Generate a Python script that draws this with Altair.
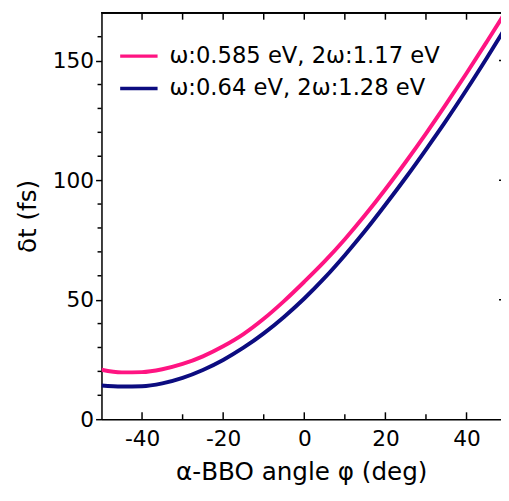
import altair as alt
import pandas as pd

# ---- data ----
angles = [-50, -45, -40, -35, -30, -25, -20, -15, -10, -5, 0, 5, 10, 15, 20, 25, 30, 35, 40, 45, 50]
dt_0585 = [20.7, 19.6, 19.7, 20.9, 23.1, 26.3, 30.5, 35.6, 42.0, 49.4, 57.5, 66.0, 75.3, 85.4,
           96.2, 107.6, 119.5, 131.9, 144.7, 157.9, 171.3]
dt_064 = [14.1, 13.7, 13.8, 15.0, 17.3, 20.6, 24.8, 29.9, 35.9, 42.8, 50.5, 59.1, 68.6, 78.8,
          89.7, 101.0, 112.8, 125.0, 137.8, 151.1, 164.8]
series_names = ["ω:0.585 eV, 2ω:1.17 eV", "ω:0.64 eV, 2ω:1.28 eV"]
series_colors = ["#ff1482", "#0c0c80"]

x_major = [-40, -20, 0, 20, 40]
x_minor = [-30, -10, 10, 30]
y_major = [0, 50, 100, 150]
y_minor = [10, 20, 30, 40, 60, 70, 80, 90, 110, 120, 130, 140, 160]
y_right = [50, 100, 150]

W, H = 406, 413
XDOM = [-50, 48.5]
YDOM = [0, 170]
FONT = "DejaVu Sans"

rows = []
for a, v in zip(angles, dt_0585):
    rows.append({"angle": a, "dt": v, "series": series_names[0]})
for a, v in zip(angles, dt_064):
    rows.append({"angle": a, "dt": v, "series": series_names[1]})
df = pd.DataFrame(rows)

xs = alt.Scale(domain=XDOM, nice=False, zero=False)
ys = alt.Scale(domain=YDOM, nice=False, zero=False)

lines = alt.Chart(df).mark_line(strokeWidth=4, interpolate="monotone", clip=True).encode(
    x=alt.X("angle:Q", scale=xs,
            axis=alt.Axis(values=x_major, ticks=False, labelPadding=10, labelFontSize=22,
                          labelExpr="datum.value + ''", title="α-BBO angle φ (deg)",
                          titleFontSize=25, titleFontWeight="normal", titlePadding=10,
                          grid=False, domainColor="black", domainWidth=1.5,
                          labelColor="black", titleColor="black", labelFont=FONT,
                          titleFont=FONT)),
    y=alt.Y("dt:Q", scale=ys,
            axis=alt.Axis(values=y_major, tickSize=6, tickWidth=1.5, tickColor="black",
                          labelFontSize=22, labelPadding=2, title="δt (fs)",
                          titleFontSize=25, titleFontWeight="normal", titlePadding=12,
                          grid=False, domainColor="black", domainWidth=1.5,
                          labelColor="black", titleColor="black", labelFont=FONT,
                          titleFont=FONT)),
    color=alt.Color("series:N",
                    scale=alt.Scale(domain=series_names, range=series_colors),
                    legend=alt.Legend(title=None, orient="none", legendX=17, legendY=23,
                                      symbolType="stroke", symbolSize=1444,
                                      symbolStrokeWidth=3.5, labelFontSize=23,
                                      labelFont=FONT, labelLimit=500,
                                      labelOffset=10, rowPadding=0, labelColor="black")),
    order="angle:Q",
)

xmaj_df = pd.DataFrame({"v": x_major})
xmin_df = pd.DataFrame({"v": x_minor})
ymin_df = pd.DataFrame({"v": y_minor})
yr_df = pd.DataFrame({"v": y_right})

rule_style = dict(color="black", strokeWidth=1.5)

bot_major = alt.Chart(xmaj_df).mark_rule(**rule_style).encode(
    x=alt.X("v:Q", scale=xs), y=alt.value(H), y2=alt.value(H - 7))
bot_minor = alt.Chart(xmin_df).mark_rule(**rule_style).encode(
    x=alt.X("v:Q", scale=xs), y=alt.value(H), y2=alt.value(H - 5))
top_major = alt.Chart(xmaj_df).mark_rule(**rule_style).encode(
    x=alt.X("v:Q", scale=xs), y=alt.value(0), y2=alt.value(7))
top_minor = alt.Chart(xmin_df).mark_rule(**rule_style).encode(
    x=alt.X("v:Q", scale=xs), y=alt.value(0), y2=alt.value(7))
left_minor = alt.Chart(ymin_df).mark_rule(**rule_style).encode(
    y=alt.Y("v:Q", scale=ys), x=alt.value(-4), x2=alt.value(0))
right_ticks = alt.Chart(yr_df).mark_rule(**rule_style).encode(
    y=alt.Y("v:Q", scale=ys), x=alt.value(W - 2), x2=alt.value(W))
top_frame = alt.Chart(xmaj_df).mark_rule(**rule_style).encode(
    x=alt.value(0), x2=alt.value(W), y=alt.value(0))

chart = alt.layer(
    lines, bot_major, bot_minor, top_major, top_minor, left_minor, right_ticks, top_frame
).properties(
    width=W, height=H,
    autosize=alt.AutoSizeParams(type="none"),
    padding={"left": 95, "top": 1, "right": 0, "bottom": 64},
).configure_view(stroke=None).configure(font=FONT)

chart.save("out.html", embed_options={"renderer": "svg", "actions": False})
